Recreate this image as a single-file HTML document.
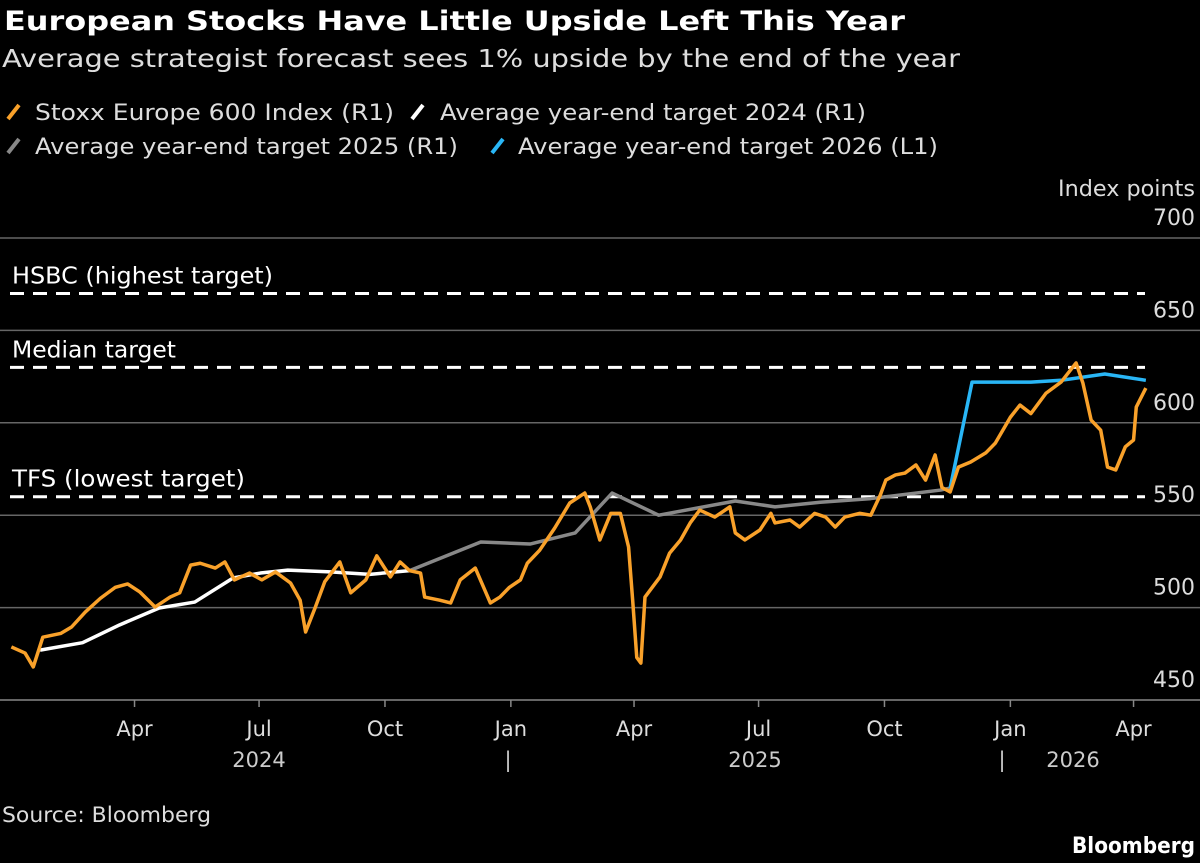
<!DOCTYPE html>
<html><head><meta charset="utf-8"><style>
body{margin:0;background:#000;width:1200px;height:863px;overflow:hidden;font-family:"DejaVu Sans","Liberation Sans",sans-serif;color:#fff}
</style></head><body>
<svg width="1200" height="863" style="position:absolute;left:0;top:0" font-family="DejaVu Sans, Liberation Sans, sans-serif">
<text x="4" y="30" font-size="27" font-weight="bold" fill="#fff" textLength="901" lengthAdjust="spacingAndGlyphs">European Stocks Have Little Upside Left This Year</text>
<text x="2" y="67" font-size="25" fill="#ddd" textLength="958" lengthAdjust="spacingAndGlyphs">Average strategist forecast sees 1% upside by the end of the year</text>
<g id="legend"></g>
<g id="plot"></g>
<text x="2" y="822" font-size="21" fill="#ddd" textLength="209" lengthAdjust="spacingAndGlyphs">Source: Bloomberg</text>
<text x="1072" y="853" font-size="22" font-weight="bold" fill="#fff" textLength="123" lengthAdjust="spacingAndGlyphs">Bloomberg</text>
</svg>
<script>
const stoxxDays=[1,11,17,24,37,45,55,66,77,86,95,106,117,124,132,139,150,157,164,175,184,194,205,212,216,223,230,241,249,260,268,278,285,292,300,303,314,322,329,340,351,358,365,373,378,387,398,409,420,424,431,439,446,452,455,458,461,464,475,482,490,497,504,515,526,530,537,548,556,559,570,577,588,596,603,610,621,629,636,640,647,654,662,669,676,681,687,693,702,713,720,731,738,746,757,768,779,784,790,797,802,808,815,821,823,830];
const stoxxVals=[478.7,475.4,467.9,484,486,489.5,497.6,505,511,512.8,508.4,500.3,505.7,508,523,524,521.4,524.7,515,518.7,515,519.3,513.3,504,486.8,500,514,524.7,508,515,528,516.6,524.7,520,518.7,505.7,504,502.5,515,521.4,502.5,505.7,511,515,524,531,543,556.6,562,554.5,536.6,551,551,532.8,504,473,470,505.7,516.6,529.5,536.6,545.8,552.8,549,554.5,540.4,536.6,542,551,545.8,547.4,543.6,551,549,543.6,549,551,550,561,569,571.8,572.8,577.2,569,582.6,565,562.6,576,578.8,583.7,589,603,609.6,605,616,622,632.4,621.5,601.5,596,576,574.5,587,590.7,608.5,618.8];
const t24Days=[22,53,80,109,135,163,183,203,234,263,292];
const t24Vals=[477,481,490.6,499.8,503,516,518.7,520.3,519.3,518,520];
const t25Days=[292,344,380,413,440,474,530,559,592,629,680,687];
const t25Vals=[520,535.5,534.4,540.4,562,550,557.7,554.5,557,559,563.6,564.7];
const t26Days=[687,703,746,768,800,830];
const t26Vals=[564.7,622,622,623,626.4,623];
const refNames=["HSBC (highest target)","Median target","TFS (lowest target)"];
const refVals=[670,630,560];
const refWidths=[261,164,233];
const yTicks=[700,650,600,550,500,450];
const qLabels=["Apr","Jul","Oct","Jan","Apr","Jul","Oct","Jan","Apr"];
const qDays=[91,182,274,366,456,547,639,731,821];
const NS="http://www.w3.org/2000/svg";
const xs=d=>10+d*1.3685, ys=v=>238+(700-v)*1.848;
const plot=document.getElementById('plot');
function mk(tag,attrs,parent){const e=document.createElementNS(NS,tag);for(const k in attrs)e.setAttribute(k,attrs[k]);(parent||plot).appendChild(e);return e;}
yTicks.forEach(v=>{
 if(v>450){const l=mk('line',{x1:0,x2:1200,y1:ys(v),y2:ys(v),stroke:'#666','stroke-width':1.5});
 
 }
 const t=mk('text',{x:1195,y:ys(v)-13,'text-anchor':'end','font-size':22,fill:'#ddd'});t.textContent=v;
 
 
});
const ax=mk('line',{x1:0,x2:1200,y1:700,y2:700,stroke:'#888','stroke-width':1.5});


const yt=mk('text',{x:1058,y:196,'font-size':22,fill:'#ddd',textLength:137,lengthAdjust:'spacingAndGlyphs'});yt.textContent='Index points';


refVals.forEach((v,i)=>{
 const l=mk('line',{x1:10,x2:1145,y1:ys(v),y2:ys(v),stroke:'#fff','stroke-width':3,'stroke-dasharray':'14,9'});
 
 
 const t=mk('text',{x:12,y:ys(v)-10,'font-size':23,fill:'#fff',textLength:refWidths[i],lengthAdjust:'spacingAndGlyphs'});t.textContent=refNames[i];
 
 
});
qLabels.forEach((q,i)=>{
 const x=xs(qDays[i]);
 mk('line',{x1:x,x2:x,y1:700,y2:707,stroke:'#888','stroke-width':1.5});
 const t=mk('text',{x:x,y:736,'text-anchor':'middle','font-size':21,fill:'#ddd'});t.textContent=q;
 
 
});
[["2024",259],["|",508],["2025",755],["|",1002],["2026",1073]].forEach(([s,x])=>{
 const t=mk('text',{x:x,y:767,'text-anchor':'middle','font-size':21,fill:'#ccc'});t.textContent=s;
 
 
});
function line(days,vals,color,w,name){
 const p=mk('polyline',{points:days.map((d,i)=>xs(d)+','+ys(vals[i])).join(' '),fill:'none',stroke:color,'stroke-width':w,'stroke-linejoin':'round'});
 
 
}
line(t24Days,t24Vals,'#fff',3.5,'target-2024-line');
line(t25Days,t25Vals,'#888',3.5,'target-2025-line');
line(t26Days,t26Vals,'#29b6f6',3.5,'target-2026-line');
line(stoxxDays,stoxxVals,'#f9a12a',3.5,'stoxx-600-line');
const lg=document.getElementById('legend');
[["Stoxx Europe 600 Index (R1)",'#f9a12a',8,35,120,359],["Average year-end target 2024 (R1)",'#fff',412,440,120,426],["Average year-end target 2025 (R1)",'#888',8,35,154,423],["Average year-end target 2026 (L1)",'#29b6f6',492,518,154,420]].forEach(([s,c,sx,tx,y,w],i)=>{
 mk('line',{x1:sx,y1:y-1,x2:sx+11,y2:y-15,stroke:c,'stroke-width':4},lg);
 const t=mk('text',{x:tx,y:y,'font-size':22,fill:'#ddd',textLength:w,lengthAdjust:'spacingAndGlyphs'},lg);t.textContent=s;
 
 
});
</script>
</body></html>
